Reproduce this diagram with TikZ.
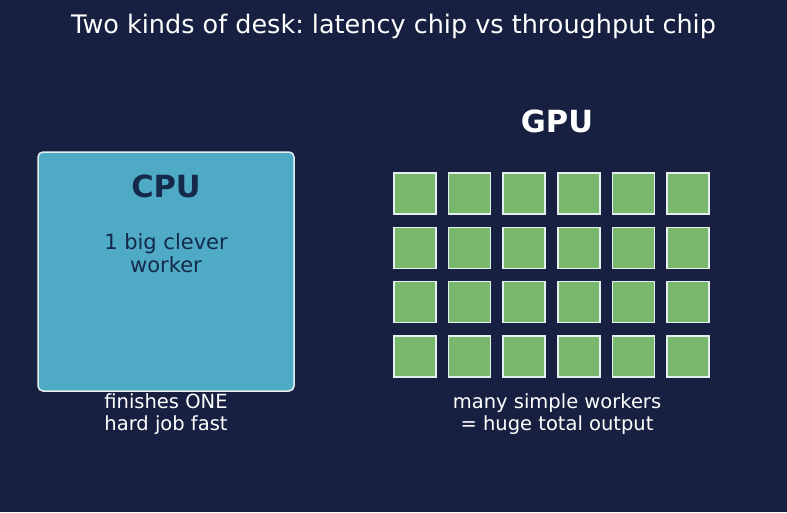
\documentclass[tikz,border=0pt]{standalone}
\usepackage{fontspec}
\setmainfont{DejaVu Sans}
\frenchspacing
\definecolor{bg}{HTML}{172040}
\definecolor{cpufill}{HTML}{4FAAC5}
\definecolor{navy}{HTML}{15294B}
\definecolor{core}{HTML}{77B86D}
\definecolor{edge}{HTML}{E6EEF0}
\tikzset{
  corebox/.style={draw=edge, line width=1.5pt, fill=core, minimum width=42pt, minimum height=41pt, inner sep=0pt},
  caption/.style={text=white, align=center, font=\fontsize{19.5}{22}\selectfont, inner sep=0pt},
}
\begin{document}
\begin{tikzpicture}[x=1pt,y=1pt]
\useasboundingbox (0,0) rectangle (787,-512);
\fill[bg] (0,0) rectangle (787,-512);
\node[text=white, font=\fontsize{25.5}{30}\selectfont] (title) at (393.5,-26) {Two kinds of desk: latency chip vs throughput chip};
% CPU
\node[draw=edge, line width=1.5pt, fill=cpufill, rounded corners=5pt, minimum width=256pt, minimum height=239pt, inner sep=0pt] (cpu) at (166,-271.5) {};
\node[text=navy, font=\fontsize{30.5}{36}\selectfont\bfseries] (cputitle) at (166,-186) {CPU};
\node[text=navy, align=center, font=\fontsize{21}{23}\selectfont] (cpudesc) at (166,-253) {1 big clever\\worker};
\node[caption] (cpucap) at (166,-414) {finishes ONE\\hard job fast};
% GPU
\node[text=white, font=\fontsize{30.5}{36}\selectfont\bfseries] (gputitle) at (557,-121) {GPU};
\foreach \r in {0,1,2,3} {
  \foreach \c in {0,1,2,3,4,5} {
    \node[corebox] (g\r\c) at ({415+54.6*\c},{-193.5-54.3*\r}) {};
  }
}
\node[caption] (gpucap) at (557,-414) {many simple workers\\= huge total output};
\end{tikzpicture}
\end{document}
